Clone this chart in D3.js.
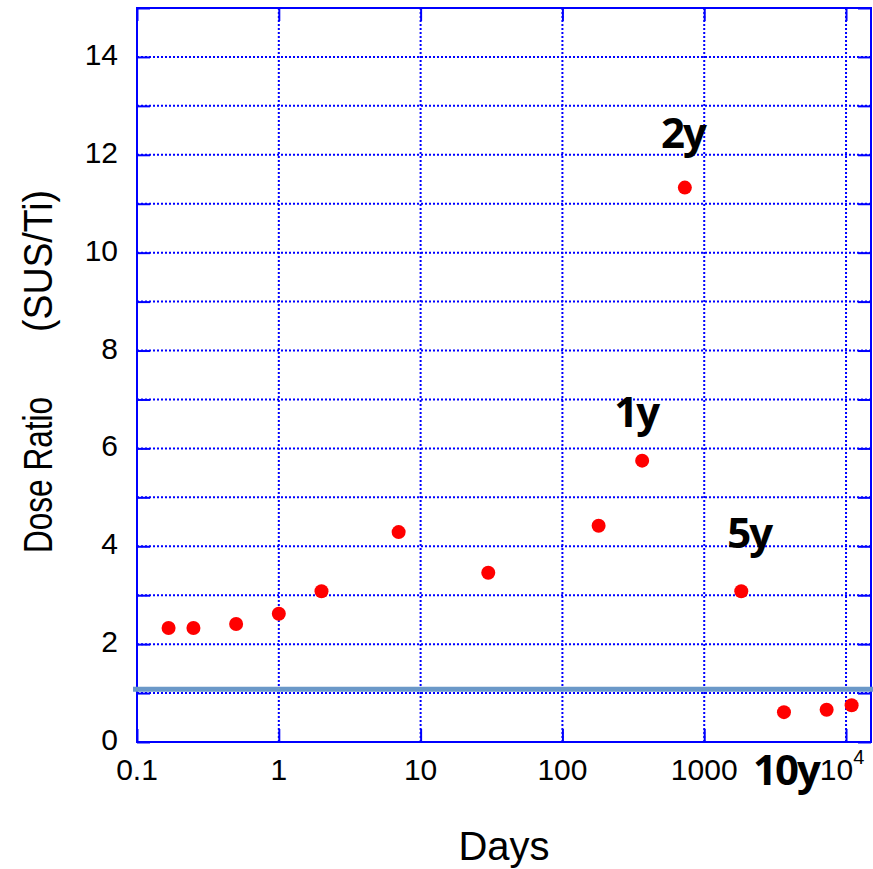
<!DOCTYPE html>
<html>
<head>
<meta charset="utf-8">
<script src="https://cdn.jsdelivr.net/npm/d3@7"></script>
<style>
  body { margin: 0; background: #fff; }
  svg { display: block; }
</style>
</head>
<body>
<svg id="chart" width="873" height="869"></svg>
<script>
// Dose ratio (SUS / Ti) against elapsed time in days
const days = [0.167, 0.25, 0.5, 1, 2, 7, 30, 180, 365, 730, 1825, 3650, 7300, 10950];
const doseRatio = [2.33, 2.33, 2.41, 2.62, 3.08, 4.29, 3.46, 4.42, 5.75, 11.33, 3.08, 0.61, 0.66, 0.75];

const xTicks = [0.1, 1, 10, 100, 1000, 10000];
const xTickLabels = ["0.1", "1", "10", "100", "1000", "10^4"];
const yTicks = [0, 2, 4, 6, 8, 10, 12, 14];
const yTickLabels = ["0", "2", "4", "6", "8", "10", "12", "14"];

const referenceRatio = 1.08;

const yearLabels = ["1y", "2y", "5y", "10y"];
const yearDays = [365, 730, 1825, 3650];

// label placement relative to the marked point (px)
const yearOffsets = [[-6, -34], [-2, -40], [8, -43], [2, 73]];

const W = 873, H = 869;
const margin = { left: 137, top: 8, right: 2, bottom: 127 };
const plotW = W - margin.left - margin.right;   // 734
const plotH = H - margin.top - margin.bottom;   // 734

const blue = "#0000ff";
const svg = d3.select("#chart");

const x = d3.scaleLog().domain([0.1, 15000]).range([margin.left, margin.left + plotW]);
const y = d3.scaleLinear().domain([0, 15]).range([margin.top + plotH, margin.top]);

// dotted grid
const grid = svg.append("g").attr("stroke", blue).attr("stroke-width", 2)
  .attr("stroke-dasharray", "2,2").attr("fill", "none");
grid.selectAll("line.h").data(d3.range(1, 15)).join("line")
  .attr("x1", margin.left).attr("x2", margin.left + plotW)
  .attr("y1", d => y(d)).attr("y2", d => y(d));
grid.selectAll("line.v").data(xTicks.slice(1)).join("line")
  .attr("y1", margin.top).attr("y2", margin.top + plotH)
  .attr("x1", d => x(d)).attr("x2", d => x(d));

// axes with inward ticks on all four sides
const tickStyle = g => {
  g.select(".domain").remove();
  g.selectAll(".tick line").attr("stroke", blue).attr("stroke-width", 2);
};

const allY = d3.range(0, 16);
const leftAxis = svg.append("g")
  .attr("transform", `translate(${margin.left},0)`)
  .call(d3.axisLeft(y).tickValues(allY).tickSize(-13).tickPadding(19)
    .tickFormat(d => {
      const i = yTicks.indexOf(d);
      return i >= 0 ? yTickLabels[i] : "";
    }))
  .call(tickStyle);
leftAxis.selectAll(".tick text")
  .attr("font-family", "'Liberation Sans', Arial, sans-serif")
  .attr("font-size", 30).attr("fill", "#000").attr("dy", "0.25em");

svg.append("g")
  .attr("transform", `translate(${margin.left + plotW},0)`)
  .call(d3.axisRight(y).tickValues(allY).tickSize(-13).tickFormat(""))
  .call(tickStyle);

const bottomAxis = svg.append("g")
  .attr("transform", `translate(0,${margin.top + plotH})`)
  .call(d3.axisBottom(x).tickValues(xTicks).tickSize(-13).tickFormat(""))
  .call(tickStyle);

svg.append("g")
  .attr("transform", `translate(0,${margin.top})`)
  .call(d3.axisTop(x).tickValues(xTicks).tickSize(-13).tickFormat(""))
  .call(tickStyle);

// x tick labels (last one with a superscript exponent)
const xLab = svg.append("g")
  .attr("font-family", "'Liberation Sans', Arial, sans-serif")
  .attr("font-size", 30).attr("fill", "#000").attr("text-anchor", "middle");
xTicks.forEach((t, i) => {
  const txt = xLab.append("text")
    .attr("x", x(t)).attr("y", margin.top + plotH + 38);
  const lab = xTickLabels[i];
  if (lab.includes("^")) {
    const [base, exp] = lab.split("^");
    txt.attr("x", x(t) - 4);
    txt.append("tspan").text(base);
    txt.append("tspan").attr("font-size", 20).attr("dy", -16).text(exp);
  } else {
    txt.text(lab);
  }
});

// plot frame
svg.append("rect")
  .attr("x", margin.left).attr("y", margin.top)
  .attr("width", plotW).attr("height", plotH)
  .attr("fill", "none").attr("stroke", blue).attr("stroke-width", 2);

// reference ratio line
svg.append("line")
  .attr("x1", margin.left - 4).attr("x2", W)
  .attr("y1", y(referenceRatio)).attr("y2", y(referenceRatio))
  .attr("stroke", "#6a98c8").attr("stroke-width", 5);

// data points
svg.append("g").selectAll("circle")
  .data(days.map((d, i) => [d, doseRatio[i]]))
  .join("circle")
  .attr("cx", d => x(d[0])).attr("cy", d => y(d[1]))
  .attr("r", 7).attr("fill", "#ff0000");

// elapsed-year annotations
svg.append("g").selectAll("text")
  .data(yearLabels.map((lab, i) => {
    const k = days.indexOf(yearDays[i]);
    return { lab, xd: days[k], yd: doseRatio[k], off: yearOffsets[i] };
  }))
  .join("text")
  .attr("x", d => x(d.xd) + d.off[0])
  .attr("y", d => y(d.yd) + d.off[1])
  .attr("text-anchor", "middle")
  .attr("font-family", "'Open Sans', 'Noto Sans', sans-serif")
  .attr("font-weight", "bold").attr("font-size", 42)
  .attr("letter-spacing", "-2px").attr("fill", "#000")
  .text(d => d.lab);

// axis titles
svg.append("text")
  .attr("x", margin.left + plotW / 2).attr("y", 860)
  .attr("text-anchor", "middle")
  .attr("font-family", "'Liberation Sans', Arial, sans-serif")
  .attr("font-size", 40).attr("fill", "#000")
  .text("Days");

const yTitle = svg.append("g")
  .attr("font-family", "'Liberation Sans', Arial, sans-serif")
  .attr("font-size", 40).attr("fill", "#000");
yTitle.append("text")
  .attr("transform", "translate(52,553) rotate(-90)")
  .attr("textLength", 156).attr("lengthAdjust", "spacingAndGlyphs")
  .text("Dose Ratio");
yTitle.append("text")
  .attr("transform", "translate(52,332) rotate(-90)")
  .attr("textLength", 142).attr("lengthAdjust", "spacingAndGlyphs")
  .text("(SUS/Ti)");
</script>
</body>
</html>
